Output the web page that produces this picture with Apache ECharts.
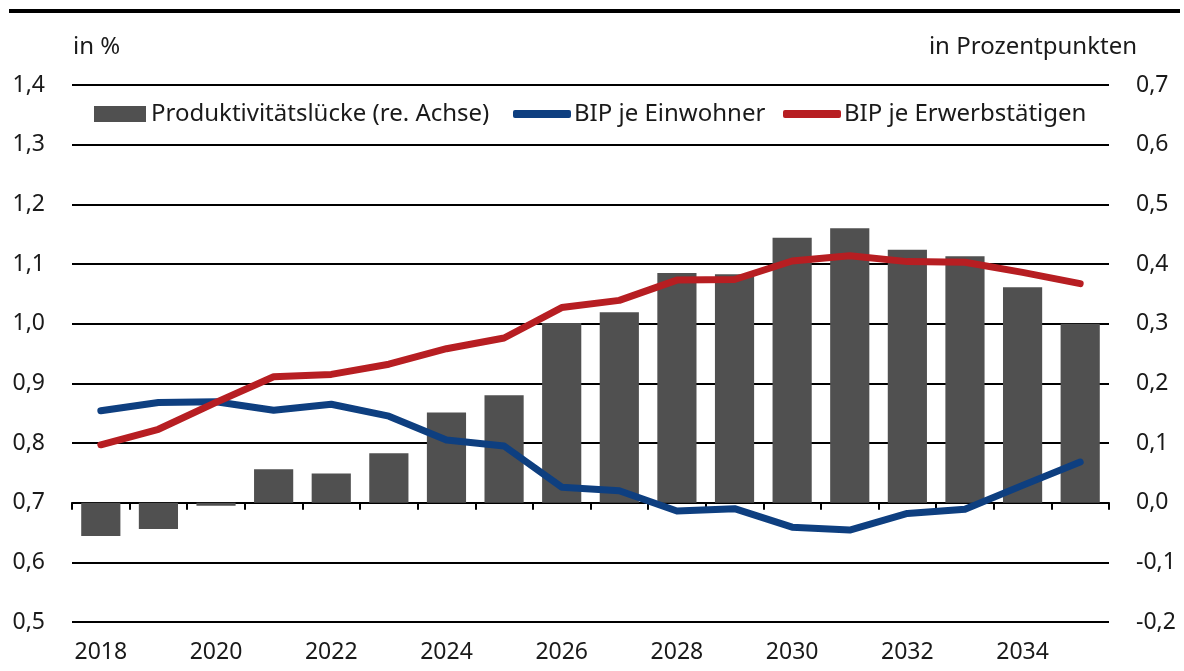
<!DOCTYPE html>
<html>
<head>
<meta charset="utf-8">
<title>Produktivitätslücke</title>
<script src="https://cdn.jsdelivr.net/npm/echarts@6/dist/echarts.min.js"></script>
<style>
    html, body { margin: 0; padding: 0; background: #fff; }
    #chart { width: 1184px; height: 671px; }
</style>
</head>
<body>
<div id="chart"></div>
<script>
// Jahre
var years = ['2018', '2019', '2020', '2021', '2022', '2023', '2024', '2025', '2026',
             '2027', '2028', '2029', '2030', '2031', '2032', '2033', '2034', '2035'];

// Produktivitätslücke in Prozentpunkten (rechte Achse)
var luecke = [-0.056, -0.044, -0.005, 0.056, 0.049, 0.083, 0.151, 0.18, 0.301,
              0.319, 0.385, 0.383, 0.444, 0.46, 0.424, 0.413, 0.361, 0.3];

// BIP je Einwohner, in % (linke Achse)
var bipEinwohner = [0.854, 0.868, 0.869, 0.855, 0.865, 0.845, 0.805, 0.795, 0.726,
                    0.72, 0.686, 0.69, 0.659, 0.654, 0.682, 0.689, 0.729, 0.768];

// BIP je Erwerbstätigen, in % (linke Achse)
var bipErwerb = [0.797, 0.823, 0.868, 0.911, 0.915, 0.932, 0.958, 0.976, 1.027,
                 1.039, 1.073, 1.074, 1.105, 1.114, 1.104, 1.103, 1.086, 1.067];

var FONT = 'Noto Sans';
var FS = 23;
var FS_LEG = 24;

function komma(v) {
    return v.toFixed(1).replace('.', ',');
}

var chart = echarts.init(document.getElementById('chart'));

var option = {
    animation: false,
    textStyle: { fontFamily: FONT },
    grid: { left: 72, right: 75, top: 85, bottom: 49, containLabel: false },
    graphic: [
        { type: 'rect', shape: { x: 9, y: 9, width: 1171, height: 4 }, style: { fill: '#000' } },
        { type: 'text', left: 73, top: 35, style: { text: 'in %', font: FS_LEG + 'px ' + FONT, fill: '#1a1a1a' } },
        { type: 'text', right: 47, top: 35, style: { text: 'in Prozentpunkten', font: FS_LEG + 'px ' + FONT, fill: '#1a1a1a' } }
    ],
    legend: [
        {
            data: ['Produktivitätslücke (re. Achse)'],
            left: 94, top: 100, padding: 0,
            icon: 'rect', itemWidth: 52, itemHeight: 16, itemGap: 0,
            textStyle: { fontSize: FS_LEG, color: '#1a1a1a', lineHeight: 28 }
        },
        {
            data: ['BIP je Einwohner'],
            left: 513, top: 100, padding: 0,
            icon: 'roundRect', itemWidth: 58, itemHeight: 8,
            textStyle: { fontSize: FS_LEG, color: '#1a1a1a', lineHeight: 28, padding: [0, 0, 0, -2] }
        },
        {
            data: ['BIP je Erwerbstätigen'],
            left: 783, top: 100, padding: 0,
            icon: 'roundRect', itemWidth: 58, itemHeight: 8,
            textStyle: { fontSize: FS_LEG, color: '#1a1a1a', lineHeight: 28, padding: [0, 0, 0, -2] }
        }
    ],
    xAxis: {
        type: 'category',
        data: years,
        boundaryGap: true,
        axisLine: { lineStyle: { color: '#000', width: 2 } },
        axisTick: { show: true, interval: 0, length: 7, lineStyle: { color: '#000', width: 2 } },
        axisLabel: { interval: 1, margin: 19, fontSize: FS, color: '#1a1a1a' },
        splitLine: { show: false }
    },
    yAxis: [
        {
            type: 'value',
            min: 0.5, max: 1.4, interval: 0.1,
            axisLine: { show: false },
            axisTick: { show: false },
            axisLabel: { margin: 27, fontSize: FS, color: '#1a1a1a', formatter: komma },
            splitLine: { lineStyle: { color: '#000', width: 2 } }
        },
        {
            type: 'value',
            min: -0.2, max: 0.7, interval: 0.1,
            axisLine: { show: false },
            axisTick: { show: false },
            axisLabel: { margin: 27, fontSize: FS, color: '#1a1a1a', formatter: komma },
            splitLine: { show: false }
        }
    ],
    series: [
        {
            name: 'Produktivitätslücke (re. Achse)',
            type: 'bar',
            yAxisIndex: 1,
            data: luecke,
            barCategoryGap: '32%',
            itemStyle: { color: '#505050' }
        },
        {
            name: 'BIP je Einwohner',
            type: 'line',
            data: bipEinwohner,
            showSymbol: false,
            symbol: 'none',
            itemStyle: { color: '#0e3f80' },
            lineStyle: { color: '#0e3f80', width: 7, cap: 'round', join: 'round' }
        },
        {
            name: 'BIP je Erwerbstätigen',
            type: 'line',
            data: bipErwerb,
            showSymbol: false,
            symbol: 'none',
            itemStyle: { color: '#b71e22' },
            lineStyle: { color: '#b71e22', width: 7, cap: 'round', join: 'round' }
        }
    ]
};

chart.setOption(option, true);
window.addEventListener('resize', function () {
    chart.resize();
});
</script>
</body>
</html>
